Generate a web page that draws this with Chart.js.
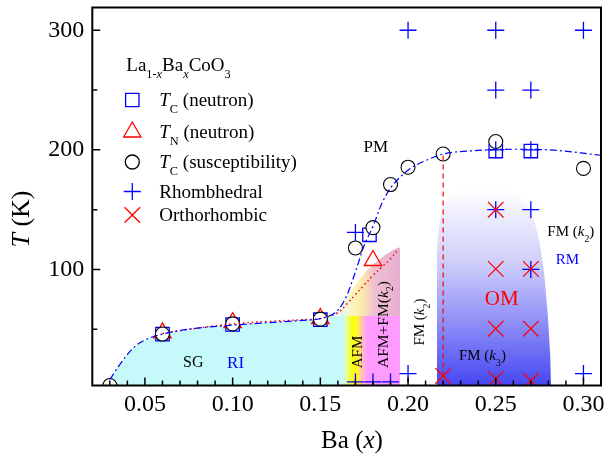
<!DOCTYPE html>
<html>
<head>
<meta charset="utf-8">
<script src="https://cdn.jsdelivr.net/npm/chart.js"></script>
<style>
  html, body { margin: 0; padding: 0; background: #fff; }
  canvas { display: block; }
</style>
</head>
<body>
<canvas id="c" width="607" height="456"></canvas>
<script>
// ---------------- data ----------------
const xSusc = [0.03, 0.06, 0.10, 0.15, 0.17, 0.18, 0.19, 0.20, 0.22, 0.25, 0.30];
const tcSusc = [3, 46, 54.5, 58.5, 118, 135, 171, 185.5, 196.5, 207, 184.5];

const xTcNeutron = [0.06, 0.10, 0.15, 0.178, 0.25, 0.27];
const tcNeutron  = [46, 54, 58, 129, 199, 199];

const xTnNeutron = [0.06, 0.10, 0.15, 0.18];
const tnNeutron  = [47, 55.5, 59, 107.5];

const xRhombo = [0.17, 0.18, 0.19, 0.20, 0.30, 0.17, 0.27, 0.25, 0.27, 0.25, 0.27, 0.25, 0.27, 0.20, 0.25, 0.30];
const tRhombo = [6, 6, 6, 13, 13, 131, 100, 150, 150, 200, 200, 250, 250, 300, 300, 300];

const xOrtho = [0.22, 0.25, 0.27, 0.25, 0.27, 0.25, 0.27, 0.25];
const tOrtho = [11, 8.5, 7, 50.5, 50.5, 100.5, 100.5, 150];

// guide-to-the-eye curves
const xFitTc = [0.03, 0.035, 0.04, 0.045, 0.05, 0.055, 0.06, 0.07, 0.08, 0.10, 0.12, 0.14, 0.15, 0.16, 0.165, 0.17, 0.175, 0.18, 0.185, 0.19, 0.20, 0.21, 0.22, 0.24, 0.26, 0.28, 0.31];
const yFitTc = [8, 19, 29, 36.5, 41, 44, 46, 49, 51, 53.5, 55.5, 57.5, 59, 66, 78, 98, 120, 136, 155, 168, 183, 191, 196.5, 199.5, 200.5, 200, 195.5];

const xFitTn = [0.06, 0.08, 0.10, 0.12, 0.14, 0.15, 0.16, 0.165, 0.17, 0.175, 0.18, 0.185, 0.19, 0.194];
const yFitTn = [46.5, 51, 54.5, 56.5, 58, 59, 64, 71, 79, 87, 95, 102, 109, 116];

const xBoundary = [0.22, 0.22];
const yBoundary = [3, 196.5];

// shaded phase regions (outline top edges)
const xLowBand = [0.03, 0.035, 0.04, 0.045, 0.05, 0.055, 0.06, 0.07, 0.08, 0.10, 0.12, 0.14, 0.15, 0.155, 0.1955, 0.1955];
const yLowBand = [8, 19, 29, 36.5, 41, 44, 46, 49, 51, 53.5, 55.5, 57.5, 59, 61, 61, 3];

const xUpBand = [0.155, 0.16, 0.1627, 0.17, 0.1776, 0.185, 0.19, 0.1955, 0.1955];
const yUpBand = [61, 65, 73, 87, 101, 110, 115, 118, 61];

const xOM = [0.2165, 0.2165, 0.2175, 0.22, 0.225, 0.232, 0.24, 0.25, 0.257, 0.263, 0.268, 0.272, 0.275, 0.2775, 0.2795, 0.281, 0.2815];
const yOM = [3, 110, 135, 152, 163, 169, 171, 171, 168, 162, 153, 140, 122, 98, 65, 30, 3];

// ticks
const xMajorTicks = [0.05, 0.10, 0.15, 0.20, 0.25, 0.30];
const xMinorTicks = [0.03, 0.04, 0.06, 0.07, 0.08, 0.09, 0.11, 0.12, 0.13, 0.14, 0.16, 0.17, 0.18, 0.19, 0.21, 0.22, 0.23, 0.24, 0.26, 0.27, 0.28, 0.29, 0.31];
const yMajorTicks = [100, 200, 300];
const yMinorTicks = [50, 150, 250];

// text labels placed in data coordinates
const annotations = [
  { parts: [['PM', '']], x: 0.1816, y: 203, size: 17, color: '#000' },
  { parts: [['SG', '']], x: 0.0776, y: 22.7, size: 16, color: '#000' },
  { parts: [['RI', '']], x: 0.1017, y: 22.7, size: 17, color: '#0000ff' },
  { parts: [['AFM', '']], x: 0.1711, y: 31, size: 15, color: '#000', rot: true },
  { parts: [['AFM+FM(', ''], ['k', 'i'], ['2', 'sub'], [')', '']], x: 0.1854, y: 54, size: 15.5, color: '#000', rot: true },
  { parts: [['FM (', ''], ['k', 'i'], ['2', 'sub'], [')', '']], x: 0.2063, y: 56, size: 15, color: '#000', rot: true },
  { parts: [['FM (', ''], ['k', 'i'], ['3', 'sub'], [')', '']], x: 0.2424, y: 28.3, size: 15, color: '#000' },
  { parts: [['OM', '']], x: 0.2534, y: 75.7, size: 21, color: '#ff0000' },
  { parts: [['FM (', ''], ['k', 'i'], ['2', 'sub'], [')', '']], x: 0.2928, y: 132.2, size: 15, color: '#000' },
  { parts: [['RM', '']], x: 0.2909, y: 108.6, size: 15, color: '#0000ff' }
];

const legendTitle = [['La', ''], ['1-', 'sub'], ['x', 'subi'], ['Ba', ''], ['x', 'subi'], ['CoO', ''], ['3', 'sub']];
const legendItems = [
  { style: 'rect', color: '#0000ff', parts: [['T', 'i'], ['C', 'sub'], [' (neutron)', '']] },
  { style: 'triangle', color: '#ff0000', parts: [['T', 'i'], ['N', 'sub'], [' (neutron)', '']] },
  { style: 'circle', color: '#000000', parts: [['T', 'i'], ['C', 'sub'], [' (susceptibility)', '']] },
  { style: 'cross', color: '#0000ff', parts: [['Rhombhedral', '']] },
  { style: 'crossRot', color: '#ff0000', parts: [['Orthorhombic', '']] }
];

// ---------------- helpers ----------------
const FONT = '"Liberation Serif", "Times New Roman", serif';
const pts = (xs, ys) => xs.map((x, i) => ({ x: x, y: ys[i] }));

function fontFor(style, size) {
  const isSub = style.indexOf('sub') === 0;
  const it = style === 'i' || style === 'subi';
  const s = isSub ? size * 0.65 : size;
  return (it ? 'italic ' : '') + s + 'px ' + FONT;
}
function drawRich(ctx, parts, x, yc, size, align, color) {
  ctx.fillStyle = color;
  ctx.textBaseline = 'alphabetic';
  ctx.textAlign = 'left';
  let w = 0;
  const widths = parts.map(p => { ctx.font = fontFor(p[1], size); const m = ctx.measureText(p[0]).width; w += m; return m; });
  let cx = align === 'center' ? x - w / 2 : x;
  const base = yc + size * 0.33;
  parts.forEach((p, i) => {
    ctx.font = fontFor(p[1], size);
    const by = p[1].indexOf('sub') === 0 ? base + size * 0.38 : base;
    ctx.fillText(p[0], cx, by);
    cx += widths[i];
  });
}
function drawMarker(ctx, style, x, y, color) {
  ctx.save();
  ctx.strokeStyle = color;
  ctx.lineWidth = 1.3;
  ctx.beginPath();
  if (style === 'rect') {
    ctx.rect(x - 6.7, y - 6.7, 13.4, 13.4);
  } else if (style === 'triangle') {
    const r = 10;
    ctx.moveTo(x, y - r);
    ctx.lineTo(x + r * Math.sin(2 * Math.PI / 3), y - r * Math.cos(2 * Math.PI / 3));
    ctx.lineTo(x + r * Math.sin(4 * Math.PI / 3), y - r * Math.cos(4 * Math.PI / 3));
    ctx.closePath();
  } else if (style === 'circle') {
    ctx.arc(x, y, 7, 0, Math.PI * 2);
  } else if (style === 'cross') {
    ctx.moveTo(x - 8.5, y); ctx.lineTo(x + 8.5, y);
    ctx.moveTo(x, y - 8.5); ctx.lineTo(x, y + 8.5);
  } else if (style === 'crossRot') {
    const d = 7.8;
    ctx.moveTo(x - d, y - d); ctx.lineTo(x + d, y + d);
    ctx.moveTo(x - d, y + d); ctx.lineTo(x + d, y - d);
  }
  ctx.stroke();
  ctx.restore();
}

// gradients
function lowBandFill(context) {
  const chart = context.chart;
  const a = chart.chartArea;
  if (!a) return 'rgba(198,250,250,1)';
  const x = chart.scales.x;
  const g = chart.ctx.createLinearGradient(x.getPixelForValue(0.1625), 0, x.getPixelForValue(0.1768), 0);
  g.addColorStop(0, 'rgb(198,250,250)');
  g.addColorStop(0.18, 'rgb(225,255,160)');
  g.addColorStop(0.38, 'rgb(255,255,10)');
  g.addColorStop(0.6, 'rgb(255,245,40)');
  g.addColorStop(0.8, 'rgb(255,190,190)');
  g.addColorStop(1, 'rgb(255,155,255)');
  return g;
}
function upBandFill(context) {
  const chart = context.chart;
  const a = chart.chartArea;
  if (!a) return 'rgba(230,160,200,0.8)';
  const x = chart.scales.x;
  const g = chart.ctx.createLinearGradient(x.getPixelForValue(0.158), 0, x.getPixelForValue(0.1955), 0);
  g.addColorStop(0, 'rgba(205,235,245,0.5)');
  g.addColorStop(0.3, 'rgba(252,240,150,0.65)');
  g.addColorStop(0.45, 'rgba(250,215,140,0.7)');
  g.addColorStop(0.6, 'rgba(235,175,200,0.8)');
  g.addColorStop(1, 'rgba(225,160,200,0.85)');
  return g;
}
function omFill(context) {
  const chart = context.chart;
  const a = chart.chartArea;
  if (!a) return 'rgba(100,100,240,1)';
  const y = chart.scales.y;
  const g = chart.ctx.createLinearGradient(0, y.getPixelForValue(172), 0, y.getPixelForValue(3));
  g.addColorStop(0, 'rgba(255,255,255,0)');
  g.addColorStop(0.12, 'rgba(242,242,253,1)');
  g.addColorStop(0.4, 'rgb(205,205,250)');
  g.addColorStop(0.7, 'rgb(140,140,247)');
  g.addColorStop(1, 'rgb(70,70,242)');
  return g;
}

const decor = {
  id: 'decor',
  afterDraw(chart) {
    const { ctx, chartArea: a, scales: { x, y } } = chart;
    ctx.save();
    // annotations
    annotations.forEach(t => {
      const px = x.getPixelForValue(t.x), py = y.getPixelForValue(t.y);
      if (t.rot) {
        ctx.save();
        ctx.translate(px, py);
        ctx.rotate(-Math.PI / 2);
        drawRich(ctx, t.parts, 0, 0, t.size, 'center', t.color);
        ctx.restore();
      } else {
        drawRich(ctx, t.parts, px, py, t.size, 'center', t.color);
      }
    });
    // legend
    const lx = a.left + 40, tx = a.left + 67;
    drawRich(ctx, legendTitle, a.left + 34, 65, 19, 'left', '#000');
    const rows = [100, 132, 162, 191.5, 215];
    legendItems.forEach((it, i) => {
      drawMarker(ctx, it.style, lx, rows[i], it.color);
      drawRich(ctx, it.parts, tx, rows[i], 19, 'left', '#000');
    });
    // frame
    ctx.strokeStyle = '#000';
    ctx.lineWidth = 2;
    ctx.strokeRect(a.left, a.top, a.right - a.left, a.bottom - a.top);
    // inward ticks
    ctx.lineWidth = 1.5;
    ctx.beginPath();
    xMajorTicks.forEach(v => { const p = x.getPixelForValue(v); ctx.moveTo(p, a.bottom); ctx.lineTo(p, a.bottom - 8); });
    xMinorTicks.forEach(v => { const p = x.getPixelForValue(v); ctx.moveTo(p, a.bottom); ctx.lineTo(p, a.bottom - 5); });
    yMajorTicks.forEach(v => { const p = y.getPixelForValue(v); ctx.moveTo(a.left, p); ctx.lineTo(a.left + 8, p); });
    yMinorTicks.forEach(v => { const p = y.getPixelForValue(v); ctx.moveTo(a.left, p); ctx.lineTo(a.left + 5, p); });
    ctx.stroke();
    // axis titles
    drawRich(ctx, [['Ba (', ''], ['x', 'i'], [')', '']], 352, 440, 25, 'center', '#000');
    ctx.save();
    ctx.translate(20, 219);
    ctx.rotate(-Math.PI / 2);
    drawRich(ctx, [['T', 'i'], [' (K)', '']], 0, 0, 26, 'center', '#000');
    ctx.restore();
    ctx.restore();
  }
};

const region = (data, fill, bg, order, tension) => ({
  data: data, showLine: true, fill: fill, backgroundColor: bg, borderColor: 'rgba(0,0,0,0)',
  borderWidth: 0, pointRadius: 0, tension: tension || 0, order: order
});

new Chart(document.getElementById('c'), {
  type: 'scatter',
  data: {
    datasets: [
      region(pts(xLowBand, yLowBand), 'start', lowBandFill, 30),
      region(pts(xUpBand, yUpBand), { value: 61 }, upBandFill, 29, 0.2),
      region(pts(xOM, yOM), 'start', omFill, 28, 0.2),
      { data: pts(xTcNeutron, tcNeutron), pointStyle: 'rect', pointRadius: 9.5, borderColor: '#0000ff', backgroundColor: 'rgba(0,0,0,0)', pointBorderWidth: 1.3, order: 9 },
      { data: pts(xTnNeutron, tnNeutron), pointStyle: 'triangle', pointRadius: 10, borderColor: '#ff0000', backgroundColor: 'rgba(0,0,0,0)', pointBorderWidth: 1.3, order: 8 },
      { data: pts(xSusc, tcSusc), pointStyle: 'circle', pointRadius: 7, borderColor: '#000', backgroundColor: '#fff', pointBorderWidth: 1.1, order: 7 },
      { data: pts(xFitTn, yFitTn), showLine: true, pointRadius: 0, borderColor: '#ff0000', borderWidth: 1.5, borderDash: [1.5, 3], tension: 0.4, order: 5 },
      { data: pts(xFitTc, yFitTc), showLine: true, pointRadius: 0, borderColor: '#0000ff', borderWidth: 1.2, borderDash: [7, 3, 2, 3], cubicInterpolationMode: 'monotone', order: 4 },
      { data: pts(xBoundary, yBoundary), showLine: true, pointRadius: 0, borderColor: '#ff0000', borderWidth: 1.2, borderDash: [5, 4], order: 4 },
      { data: pts(xRhombo, tRhombo), pointStyle: 'cross', pointRadius: 8.5, borderColor: '#0000ff', pointBorderWidth: 1.3, order: 2 },
      { data: pts(xOrtho, tOrtho), pointStyle: 'crossRot', pointRadius: 11, borderColor: '#ff0000', pointBorderWidth: 1.3, order: 1 }
    ]
  },
  options: {
    responsive: false,
    animation: false,
    devicePixelRatio: 1,
    layout: { autoPadding: false, padding: { top: 7.5, right: 6, left: 0, bottom: 0 } },
    plugins: { legend: { display: false }, tooltip: { enabled: false } },
    scales: {
      x: {
        type: 'linear', min: 0.02, max: 0.31,
        grid: { display: false, drawTicks: false },
        border: { display: false },
        afterFit: s => { s.height = 70.5; s.paddingLeft = 0; s.paddingRight = 0; },
        ticks: {
          stepSize: 0.05, includeBounds: false, padding: 5, color: '#000',
          font: { family: FONT, size: 24 },
          callback: v => v.toFixed(2)
        }
      },
      y: {
        type: 'linear', min: 3, max: 319,
        grid: { display: false, drawTicks: false },
        border: { display: false },
        afterFit: s => { s.width = 92.3; s.paddingTop = 0; s.paddingBottom = 0; },
        ticks: {
          stepSize: 100, includeBounds: false, padding: 8, color: '#000',
          font: { family: FONT, size: 24 },
          callback: v => String(v)
        }
      }
    }
  },
  plugins: [decor]
});
</script>
</body>
</html>
